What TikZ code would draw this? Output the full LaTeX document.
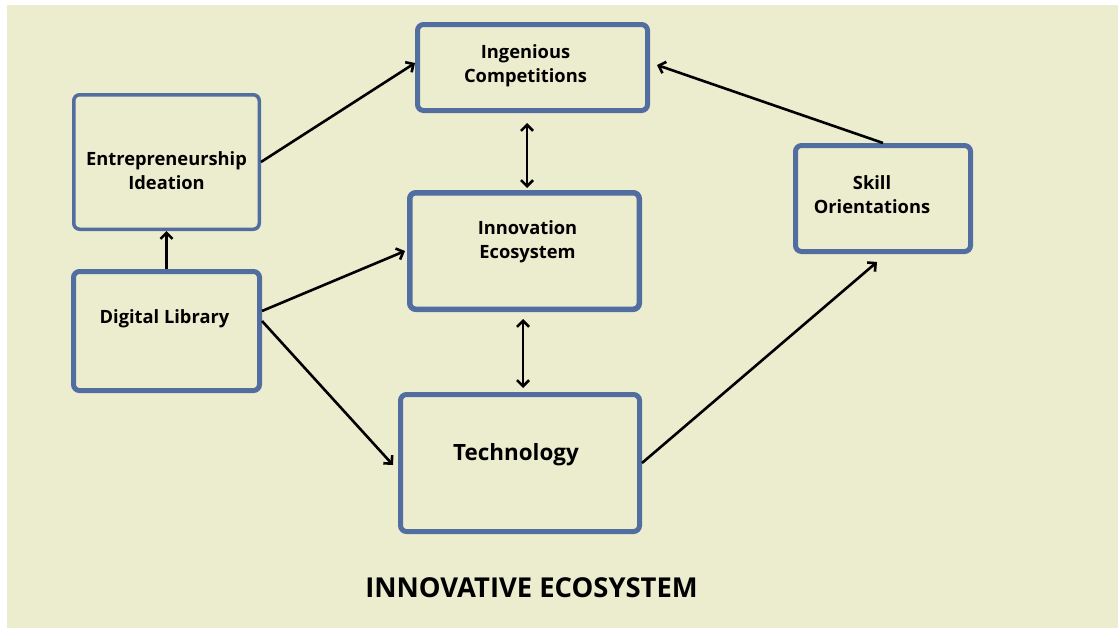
\documentclass[tikz,border=0pt]{standalone}
\usepackage{fontspec}
\setmainfont{Open Sans}
\usetikzlibrary{arrows.meta}
\definecolor{paper}{RGB}{236,236,206}
\definecolor{frame}{RGB}{82,110,160}

\begin{document}
\begin{tikzpicture}
[x=1pt,y=-1pt,
  boxDecorate/.style={shape=rectangle,draw=frame,fill=paper,rounded corners=6pt,inner sep=0pt},%
  textDecorate/.style={align=center,text=black,font=\bfseries\fontsize{18.3}{24}\selectfont}]
\useasboundingbox (0,0) rectangle (1118,629);
\fill[paper] (7,5) rectangle (1118,628);
%% nodes or vertices
\foreach \nodename/\x/\y/\w/\h/\lw/\dx/\dy/\nodetext in {
  Entrepreneurship/166.5/162/185.5/134.5/3.5/0/-9/{Entrepreneurship\\Ideation},
  Library/166.5/331/186/119/5/-2/12/{Digital Library},
  Competitions/532.5/67.5/230/86/5/-7/1.5/{Ingenious\\Competitions},
  Innovation/524.5/251/229.5/116.5/5.5/3/9/{Innovation\\Ecosystem},
  Technology/520/463/239/137/5/-4/8/{\fontsize{22.4}{28}\selectfont Technology},
  Skill/883/198.5/175/106/5/-11/3.5/{Skill\\Orientations}}
{
  \node (\nodename) at (\x,\y) [boxDecorate,line width=\lw pt,minimum width=\w pt,minimum height=\h pt,
    label={[textDecorate,xshift=\dx pt,yshift=\dy pt]center:\nodetext}] {};
}
\node (title) at (531.5,588) {\bfseries\fontsize{27.4}{32}\selectfont INNOVATIVE ECOSYSTEM};
%% edges or lines
\tikzstyle{EdgeStyle}=[line width=2.6pt,-{Straight Barb[length=6pt,width=12pt]}]
\tikzstyle{BothStyle}=[line width=2.6pt,{Straight Barb[length=6pt,width=12pt]}-{Straight Barb[length=6pt,width=12pt]}]
\foreach \startnode/\sx/\sy/\endnode/\ex/\ey in {
  Library/0/0/Entrepreneurship/0/0,
  Entrepreneurship.east/0/0/Competitions.west/0/4.5,
  Library.east/0/20/Innovation.west/-2/0,
  Library.east/0/10/Technology.west/-5/-2,
  Skill.north/0/0/Competitions.east/7/2.5,
  Technology.east/0/0/Skill.south/-6/-8}
{
  \draw[EdgeStyle] ([xshift=\sx pt,yshift=\sy pt]\startnode) -- ([xshift=\ex pt,yshift=\ey pt]\endnode);
}
\draw[BothStyle] ([xshift=-5.5pt,yshift=-10pt]Competitions.south) -- ([xshift=2.5pt,yshift=2pt]Innovation.north);
\draw[BothStyle] ([xshift=-1.5pt,yshift=-7pt]Innovation.south) -- ([xshift=3pt,yshift=4pt]Technology.north);
\end{tikzpicture}
\end{document}
